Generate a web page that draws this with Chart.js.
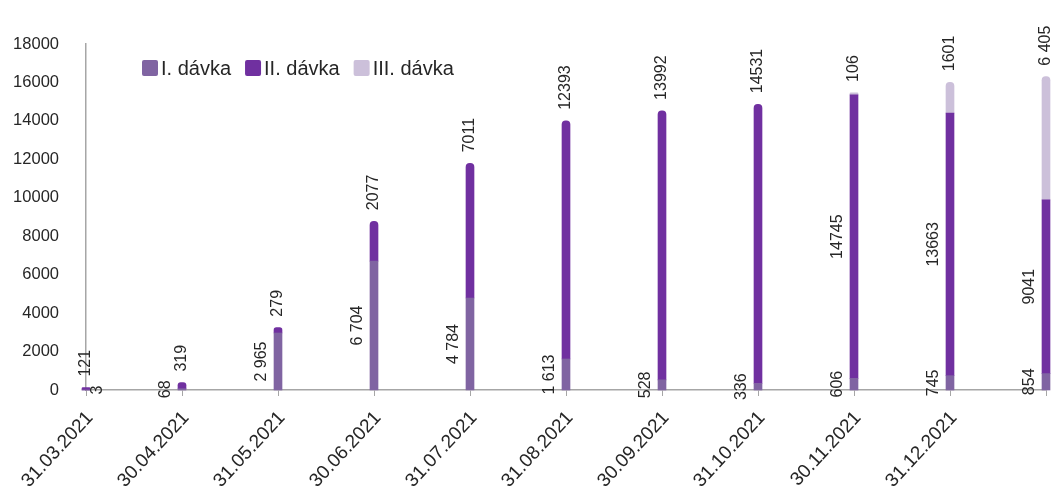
<!DOCTYPE html>
<html>
<head>
<meta charset="utf-8">
<script src="https://cdn.jsdelivr.net/npm/chart.js@4.4.0/dist/chart.umd.min.js"></script>
<style>
    html, body { margin: 0; padding: 0; background: #fff; }
    #wrap { width: 1055px; height: 496px; }
</style>
</head>
<body>
<div id="wrap"><canvas id="doseChart" width="1055" height="496"></canvas></div>
<script>
// --- 1. Data ---
const dates = ['31.03.2021', '30.04.2021', '31.05.2021', '30.06.2021', '31.07.2021', '31.08.2021',
               '30.09.2021', '31.10.2021', '30.11.2021', '31.12.2021', ''];
const dose1 = [3, 68, 2965, 6704, 4784, 1613, 528, 336, 606, 745, 854];
const dose2 = [121, 319, 279, 2077, 7011, 12393, 13992, 14531, 14745, 13663, 9041];
const dose3 = [null, null, null, null, null, null, null, null, 106, 1601, 6405];
// value labels as printed on the original (spacing of thousands is not consistent there)
const dose1Text = ['3', '68', '2 965', '6 704', '4 784', '1 613', '528', '336', '606', '745', '854'];
const dose2Text = ['121', '319', '279', '2077', '7011', '12393', '13992', '14531', '14745', '13663', '9041'];
const dose3Text = ['', '', '', '', '', '', '', '', '106', '1601', '6 405'];
const seriesNames = ['I. dávka', 'II. dávka', 'III. dávka'];
const seriesColors = ['#8064a2', '#7030a0', '#ccc0da'];
const yMax = 18000;
const yStep = 2000;

const FONT = "'Liberation Sans', Arial, sans-serif";
const TEXT_COLOR = '#262626';
const AXIS_COLOR = '#a6a6a6';

// --- 2. Helpers ---
const allSeries = [dose1, dose2, dose3];
const allTexts = [dose1Text, dose2Text, dose3Text];

function isTopOfStack(datasetIndex, index) {
    for (let k = datasetIndex + 1; k < allSeries.length; k++) {
        if (allSeries[k][index] > 0) return false;
    }
    return true;
}

// --- 3. Value labels + legend drawn by hand ---
const labelPlugin = {
    id: 'valueLabels',
    afterDatasetsDraw(chart) {
        const { ctx, chartArea } = chart;
        ctx.save();
        ctx.font = `16px ${FONT}`;
        ctx.fillStyle = TEXT_COLOR;
        ctx.textBaseline = 'middle';

        chart.data.datasets.forEach((ds, i) => {
            const meta = chart.getDatasetMeta(i);
            meta.data.forEach((bar, j) => {
                const v = ds.data[j];
                if (v === null || v === undefined) return;
                const text = allTexts[i][j];
                if (!text) return;

                ctx.save();
                if (i > 0 && isTopOfStack(i, j)) {
                    // above the stack
                    ctx.translate(bar.x, bar.y - 11);
                    ctx.rotate(-Math.PI / 2);
                    ctx.textAlign = 'left';
                    ctx.fillText(text, 0, 0);
                } else {
                    // beside the segment, centred on it
                    const cy = (bar.y + bar.base) / 2;
                    let cx = bar.x - 16;
                    if (cx - 8 < chartArea.left) cx = bar.x + 12;
                    ctx.translate(cx, cy);
                    ctx.rotate(-Math.PI / 2);
                    ctx.textAlign = 'center';
                    ctx.fillText(text, 0, 0);
                }
                ctx.restore();
            });
        });
        ctx.restore();
    },
    afterDraw(chart) {
        const { ctx } = chart;
        ctx.save();
        ctx.font = `20px ${FONT}`;
        ctx.textBaseline = 'middle';
        ctx.textAlign = 'left';
        let x = 142;
        const y = 68;
        chart.data.datasets.forEach(ds => {
            ctx.fillStyle = ds.backgroundColor;
            ctx.beginPath();
            ctx.roundRect(x, y - 8, 16, 16, 2);
            ctx.fill();
            x += 19;
            ctx.fillStyle = TEXT_COLOR;
            ctx.fillText(ds.label, x, y + 1);
            x += ctx.measureText(ds.label).width + 14;
        });
        ctx.restore();
    }
};

// --- 4. Chart ---
const ctx = document.getElementById('doseChart').getContext('2d');
const doseChart = new Chart(ctx, {
    type: 'bar',
    data: {
        labels: dates,
        datasets: allSeries.map((data, i) => ({
            label: seriesNames[i],
            data: data,
            backgroundColor: seriesColors[i],
            barThickness: 8,
            clip: false,
            borderSkipped: 'start',
            borderRadius: c => isTopOfStack(c.datasetIndex, c.dataIndex) ? 4 : 0
        }))
    },
    options: {
        responsive: false,
        animation: false,
        layout: { padding: { top: 44, right: 9, left: 0, bottom: 0 } },
        plugins: {
            legend: { display: false },
            tooltip: { enabled: false }
        },
        scales: {
            x: {
                stacked: true,
                offset: false,
                afterFit: scale => {
                    scale.height = 106;
                    scale.paddingRight = 0;
                },
                grid: { display: true, offset: false, drawOnChartArea: false, drawTicks: true, tickLength: 6, color: AXIS_COLOR },
                border: { display: true, color: AXIS_COLOR, width: 1.5 },
                ticks: {
                    autoSkip: false,
                    minRotation: 47,
                    maxRotation: 47,
                    padding: 11,
                    labelOffset: 4,
                    color: TEXT_COLOR,
                    font: { family: FONT, size: 19 }
                }
            },
            y: {
                stacked: true,
                min: 0,
                max: yMax,
                afterFit: scale => { scale.width = 86; },
                grid: { display: false },
                border: { display: true, color: AXIS_COLOR, width: 1.5 },
                ticks: {
                    stepSize: yStep,
                    padding: 19,
                    color: TEXT_COLOR,
                    font: { family: FONT, size: 16.5 },
                    callback: v => String(v)
                }
            }
        }
    },
    plugins: [labelPlugin]
});
</script>
</body>
</html>
